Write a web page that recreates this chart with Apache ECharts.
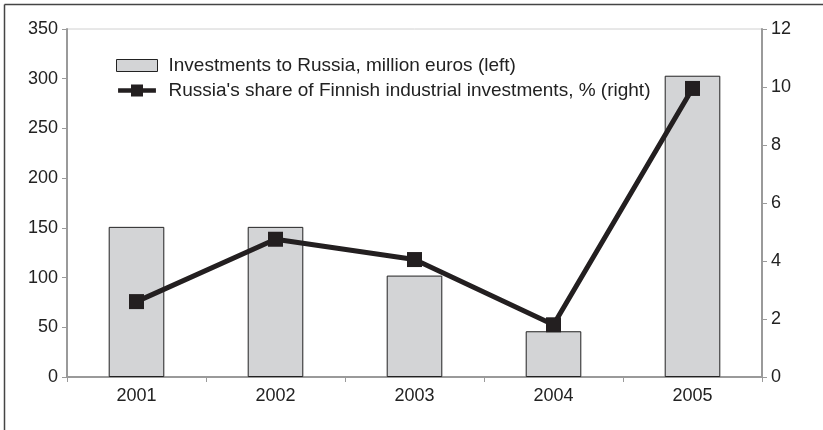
<!DOCTYPE html>
<html lang="en">
<head>
    <meta charset="UTF-8">
    <title>Investments to Russia</title>
    <script src="https://cdn.jsdelivr.net/npm/echarts@6/dist/echarts.min.js"></script>
    <style>
        html,body{margin:0;padding:0;background:#fff;}
        #main{width:823px;height:430px;}
    </style>
</head>
<body>
<div id="main"></div>
<script>
    // data
    var years = ['2001', '2002', '2003', '2004', '2005'];
    var investments = [151, 151, 102, 46, 303];      // million euros (left)
    var russiaShare = [2.6, 4.75, 4.05, 1.8, 9.95];  // % (right)

    var barName = 'Investments to Russia, million euros (left)';
    var lineName = "Russia's share of Finnish industrial investments, % (right)";

    var font = 'Liberation Sans, Arial, sans-serif';
    var axisGrey = '#9a9a9a';
    var ink = '#231f20';

    var chart = echarts.init(document.getElementById('main'));
    var option = {
        animation: false,
        textStyle: {fontFamily: font},
        grid: {
            left: 67, right: 61, top: 29, bottom: 53,
            show: true, borderColor: '#d0d0d0', borderWidth: 1
        },
        legend: {
            left: 111, top: 51, orient: 'vertical', itemGap: 6,
            itemWidth: 41, itemHeight: 12,
            textStyle: {fontSize: 19, color: '#222', fontFamily: font, padding: [0, 0, 0, 6]},
            data: [
                {name: barName, icon: 'rect', itemStyle: {color: '#d3d4d6', borderColor: '#222', borderWidth: 1}},
                // thick line with a square marker in the middle
                {name: lineName, icon: 'path://M0,4 L14,4 L14,0 L27,0 L27,4 L41,4 L41,9 L27,9 L27,13 L14,13 L14,9 L0,9 Z',
                    itemStyle: {color: ink}}
            ]
        },
        xAxis: {
            type: 'category',
            data: years,
            axisLine: {lineStyle: {color: axisGrey, width: 2}},
            axisTick: {show: true, length: 5, lineStyle: {color: axisGrey}},
            axisLabel: {fontSize: 18, color: '#222', margin: 10}
        },
        yAxis: [{
            type: 'value', min: 0, max: 350, interval: 50,
            splitLine: {show: false},
            axisLine: {show: true, lineStyle: {color: axisGrey, width: 2}},
            axisTick: {show: true, length: 5, lineStyle: {color: axisGrey}},
            axisLabel: {fontSize: 18, color: '#222', margin: 9}
        }, {
            type: 'value', min: 0, max: 12, interval: 2,
            splitLine: {show: false},
            axisLine: {show: true, lineStyle: {color: axisGrey, width: 2}},
            axisTick: {show: true, length: 5, lineStyle: {color: axisGrey}},
            axisLabel: {fontSize: 18, color: '#222', margin: 9}
        }],
        series: [{
            name: barName,
            type: 'bar',
            yAxisIndex: 0,
            barWidth: '40%',
            itemStyle: {color: '#d3d4d6', borderColor: '#222', borderWidth: 1}
        }, {
            name: lineName,
            type: 'line',
            yAxisIndex: 1,
            symbol: 'rect',
            symbolSize: 15,
            lineStyle: {color: ink, width: 5},
            itemStyle: {color: ink}
        }],
        graphic: [
            // outer frame (left and top edges)
            {type: 'line', shape: {x1: 4.5, y1: 4.5, x2: 823, y2: 4.5}, style: {stroke: '#444', lineWidth: 1.5}},
            {type: 'line', shape: {x1: 4.5, y1: 4.5, x2: 4.5, y2: 430}, style: {stroke: '#444', lineWidth: 1.5}}
        ]
    };
    option.series[0].data = investments;
    option.series[1].data = russiaShare;
    chart.setOption(option);
</script>
</body>
</html>
